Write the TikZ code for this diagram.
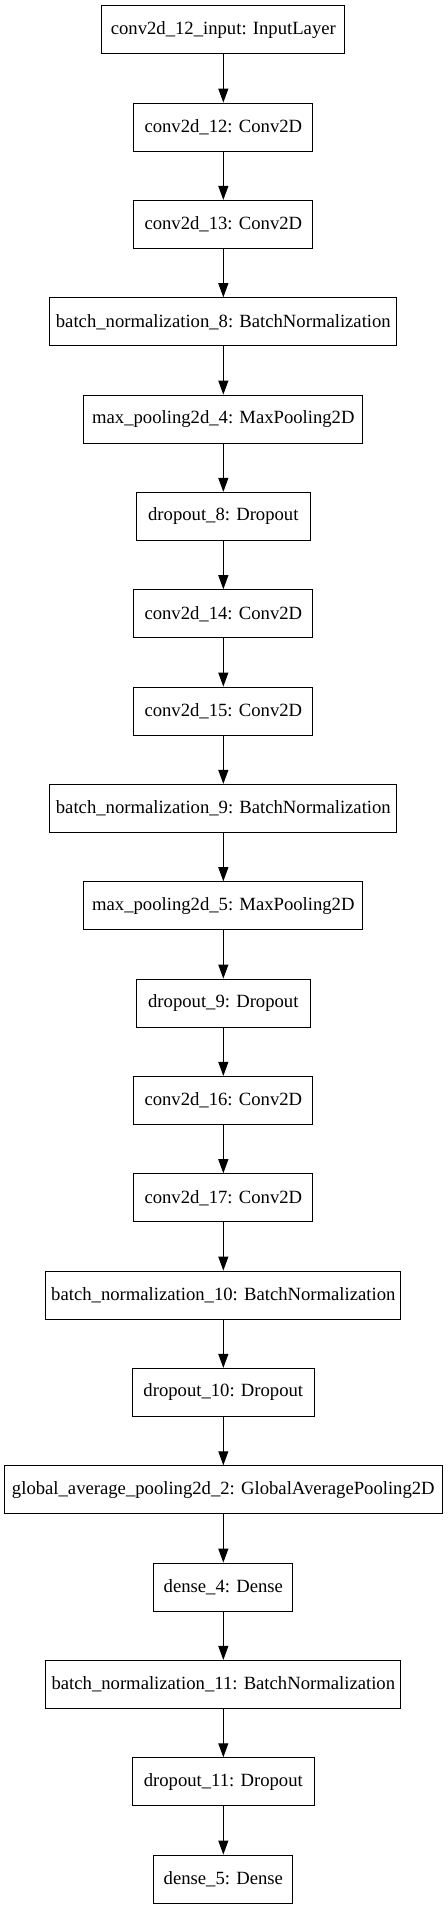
\documentclass[tikz,border=0pt]{standalone}
\usepackage{fontspec}
\setmainfont{Liberation Serif}
\usetikzlibrary{arrows.meta}
\tikzset{
  layer/.style={draw, rectangle, line width=0.75pt, minimum height=36pt, inner sep=0pt, font=\fontsize{14pt}{16pt}\selectfont},
  wconv/.style={minimum width=134.25pt},
  winput/.style={minimum width=182.25pt},
  wbn/.style={minimum width=260.25pt},
  wbnb/.style={minimum width=266.25pt},
  wmp/.style={minimum width=209.25pt},
  wdrop/.style={minimum width=130.3pt},
  wdropb/.style={minimum width=137pt},
  wgap/.style={minimum width=328pt},
  wdense/.style={minimum width=104.25pt},
  arr/.style={line width=0.75pt, -{Triangle[length=10.5pt,width=7.5pt]}}
}
\begin{document}
\begin{tikzpicture}
\useasboundingbox (0,0) rectangle (335.25pt,-1431.75pt);
\def\cx{167.5pt}
\node[layer,winput] (n0) at (\cx,-22.3pt) {conv2d\_12\_input: InputLayer};
\node[layer,wconv] (n1) at (\cx,-95.3pt) {conv2d\_12: Conv2D};
\node[layer,wconv] (n2) at (\cx,-168.3pt) {conv2d\_13: Conv2D};
\node[layer,wbn] (n3) at (\cx,-241.3pt) {batch\_normalization\_8: BatchNormalization};
\node[layer,wmp] (n4) at (\cx,-314.3pt) {max\_pooling2d\_4: MaxPooling2D};
\node[layer,wdrop] (n5) at (\cx,-387.3pt) {dropout\_8: Dropout};
\node[layer,wconv] (n6) at (\cx,-460.3pt) {conv2d\_14: Conv2D};
\node[layer,wconv] (n7) at (\cx,-533.3pt) {conv2d\_15: Conv2D};
\node[layer,wbn] (n8) at (\cx,-606.3pt) {batch\_normalization\_9: BatchNormalization};
\node[layer,wmp] (n9) at (\cx,-679.3pt) {max\_pooling2d\_5: MaxPooling2D};
\node[layer,wdrop] (n10) at (\cx,-752.3pt) {dropout\_9: Dropout};
\node[layer,wconv] (n11) at (\cx,-825.3pt) {conv2d\_16: Conv2D};
\node[layer,wconv] (n12) at (\cx,-898.3pt) {conv2d\_17: Conv2D};
\node[layer,wbnb] (n13) at (\cx,-971.3pt) {batch\_normalization\_10: BatchNormalization};
\node[layer,wdropb] (n14) at (\cx,-1044.3pt) {dropout\_10: Dropout};
\node[layer,wgap] (n15) at (\cx,-1117.3pt) {global\_average\_pooling2d\_2: GlobalAveragePooling2D};
\node[layer,wdense] (n16) at (\cx,-1190.3pt) {dense\_4: Dense};
\node[layer,wbnb] (n17) at (\cx,-1263.3pt) {batch\_normalization\_11: BatchNormalization};
\node[layer,wdropb] (n18) at (\cx,-1336.3pt) {dropout\_11: Dropout};
\node[layer,wdense] (n19) at (\cx,-1409.3pt) {dense\_5: Dense};
\foreach \a/\b in {n0/n1,n1/n2,n2/n3,n3/n4,n4/n5,n5/n6,n6/n7,n7/n8,n8/n9,n9/n10,n10/n11,n11/n12,n12/n13,n13/n14,n14/n15,n15/n16,n16/n17,n17/n18,n18/n19}
  \draw[arr] (\a) -- (\b);
\end{tikzpicture}
\end{document}
